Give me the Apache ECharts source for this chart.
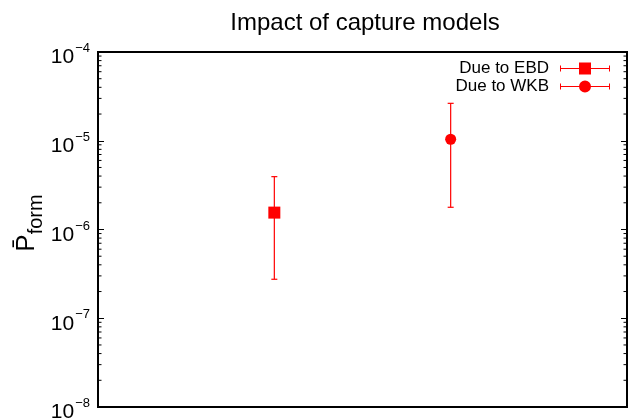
<!DOCTYPE html>
<html>
<head>
<meta charset="utf-8">
<script src="https://cdn.jsdelivr.net/npm/echarts@6/dist/echarts.min.js"></script>
<style>
  html, body { margin: 0; padding: 0; background: #fff; }
  #chart { width: 629px; height: 419px; }
</style>
</head>
<body>
<div id="chart"></div>
<script>
// positions along the (hidden) x axis
const names = ['Due to EBD', 'Due to WKB'];
const xPos = [1, 2];
const centers = [1.55e-6, 1.04e-5];
const lows = [2.75e-7, 1.78e-6];
const highs = [3.94e-6, 2.64e-5];
const symbols = ['rect', 'circle'];
const symbolSizes = [12, 11];

const minorTicks = [];
[-8, -7, -6, -5].forEach(e => {
  for (let m = 2; m <= 9; m++) minorTicks.push(m * Math.pow(10, e));
});

const font = 'Liberation Sans, Arial, sans-serif';
const red = '#ff0000';
const tickColor = '#000';

const iconEBD = 'path://M0,5.5h50v1h-50z M0,3h1v6h-1z M49,3h1v6h-1z M19,0h12v12h-12z';
const iconWKB = 'path://M0,5.5h50v1h-50z M0,3h1v6h-1z M49,3h1v6h-1z M31,6A6,6 0 1 1 19,6A6,6 0 1 1 31,6z';

const chart = echarts.init(document.getElementById('chart'));

function yAxisDef(position, withLabels) {
  return {
    type: 'log',
    logBase: 10,
    min: 1e-8,
    max: 1e-4,
    position: position,
    axisLine: { show: true, lineStyle: { color: '#000', width: 2 } },
    splitLine: { show: false },
    axisTick: {
      show: true,
      inside: true,
      length: 6,
      lineStyle: { color: tickColor, width: 1 }
    },
    axisLabel: withLabels ? {
      show: true,
      margin: 8,
      padding: [6, 0, 0, 0],
      formatter: v => '{b|10}{s|−' + Math.abs(Math.round(Math.log10(v))) + '}',
      rich: {
        b: { fontSize: 21, fontFamily: font, color: '#000', verticalAlign: 'bottom', padding: [5, 0, 0, 0] },
        s: { fontSize: 13, fontFamily: font, color: '#000', verticalAlign: 'top', padding: [0, 0, 6, 1] }
      }
    } : { show: false }
  };
}

const series = [];
names.forEach((name, i) => {
  series.push({
    name: name + ' err',
    type: 'custom',
    yAxisIndex: 0,
    data: [[xPos[i], lows[i], highs[i]]],
    renderItem: (params, api) => {
      const lo = api.coord([api.value(0), api.value(1)]);
      const hi = api.coord([api.value(0), api.value(2)]);
      const style = { stroke: red, lineWidth: 1.2 };
      return {
        type: 'group',
        children: [
          { type: 'line', shape: { x1: lo[0], y1: lo[1], x2: hi[0], y2: hi[1] }, style },
          { type: 'line', shape: { x1: lo[0] - 3, y1: lo[1], x2: lo[0] + 3, y2: lo[1] }, style },
          { type: 'line', shape: { x1: hi[0] - 3, y1: hi[1], x2: hi[0] + 3, y2: hi[1] }, style }
        ]
      };
    },
    z: 2
  });
  series.push({
    name: name,
    type: 'scatter',
    yAxisIndex: 0,
    symbol: symbols[i],
    symbolSize: symbolSizes[i],
    itemStyle: { color: red, opacity: 1 },
    data: [[xPos[i], centers[i]]],
    z: 3
  });
});

// minor log ticks (2..9 per decade) on both sides of the frame
series.push({
  name: 'minor ticks',
  type: 'custom',
  silent: true,
  yAxisIndex: 0,
  data: minorTicks.map(v => [1, v]),
  renderItem: (params, api) => {
    const l = api.coord([0, api.value(1)]);
    const r = api.coord([3, api.value(1)]);
    const style = { stroke: tickColor, lineWidth: 1 };
    return {
      type: 'group',
      children: [
        { type: 'line', shape: { x1: l[0], y1: l[1], x2: l[0] + 3.5, y2: l[1] }, style },
        { type: 'line', shape: { x1: r[0], y1: r[1], x2: r[0] - 3.5, y2: r[1] }, style }
      ]
    };
  },
  z: 5
});

chart.setOption({
  animation: false,
  title: {
    text: 'Impact of capture models',
    left: 360,
    textAlign: 'center',
    top: 6,
    textStyle: { fontFamily: font, fontSize: 24, fontWeight: 'normal', color: '#000' }
  },
  grid: {
    left: 98, right: 2, top: 52, bottom: 12,
    outerBoundsMode: 'none',
    containLabel: false,
    show: true, borderColor: '#000', borderWidth: 2, backgroundColor: 'transparent'
  },
  legend: {
    orient: 'vertical',
    right: 19,
    top: 60,
    padding: 0,
    align: 'right',
    itemWidth: 50,
    itemHeight: 12,
    itemGap: 1,
    selectedMode: false,
    textStyle: { fontFamily: font, fontSize: 17, color: '#000', padding: [0, 6, 0, 0] },
    data: [
      { name: names[0], icon: iconEBD },
      { name: names[1], icon: iconWKB }
    ]
  },
  xAxis: {
    type: 'value', min: 0, max: 3,
    axisLine: { show: false }, axisTick: { show: false },
    axisLabel: { show: false }, splitLine: { show: false }
  },
  yAxis: [
    yAxisDef('left', true),
    yAxisDef('right', false)
  ],
  graphic: [{
    type: 'text',
    x: 30,
    y: 223,
    rotation: Math.PI / 2,
    style: {
      text: '{p|P\u0304}{s|form}',
      align: 'center',
      verticalAlign: 'middle',
      rich: {
        p: { fontSize: 26, fontFamily: font, fill: '#000', verticalAlign: 'top', padding: [0, 0, 6, 0] },
        s: { fontSize: 20, fontFamily: font, fill: '#000', verticalAlign: 'bottom', padding: [8, 0, 0, 0] }
      }
    }
  }],
  series: series
});
</script>
</body>
</html>
